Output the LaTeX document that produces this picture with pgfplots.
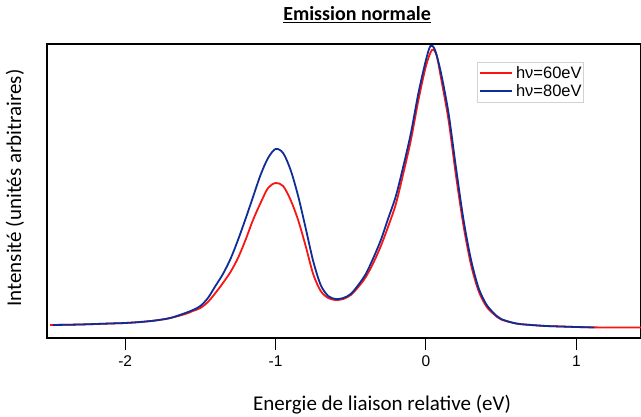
\documentclass[border=0pt]{standalone}
\usepackage{fontspec}
\setmainfont{Carlito}
\newfontfamily\arial{Liberation Sans}
\usepackage{pgfplots}
\pgfplotsset{compat=1.18}
\definecolor{cred}{RGB}{250,20,20}
\definecolor{cblue}{RGB}{15,45,150}
\begin{document}
\begin{tikzpicture}
\path[use as bounding box] (-47pt,-78pt) rectangle (594pt,338pt);
\begin{axis}[
  at={(0pt,0pt)}, anchor=south west,
  scale only axis, width=594pt, height=294pt,
  xmin=-2.52, xmax=1.43, ymin=0, ymax=294,
  axis line style={black, line width=1.2pt},
  xtick={-2,-1,0,1}, xticklabels={-2,-1,0,1},
  xtick pos=bottom, tick align=outside,
  major tick length=12pt,
  tick style={black, line width=1pt},
  ytick=\empty,
  xticklabel style={font=\arial\fontsize{15.5}{17}\selectfont, yshift=-2pt},
  xlabel={Energie de liaison relative (eV)},
  xlabel style={at={(axis description cs:0.564,-0.228)}, anchor=center, font=\fontsize{21}{24}\selectfont},
  ylabel={Intensité (unités arbitraires)},
  ylabel style={at={(axis description cs:-0.054,0.51)}, anchor=center, font=\fontsize{21}{24}\selectfont},
  title={\textbf{\underline{Emission normale}}},
  title style={at={(axis description cs:0.522,1.058)}, anchor=base, font=\fontsize{20}{24}\selectfont},
  legend style={at={(axis description cs:0.724,0.939)}, anchor=north west, draw=gray!35, font=\arial\fontsize{16.5}{19}\selectfont, inner xsep=2pt, inner ysep=2pt, row sep=1pt,
    nodes={inner xsep=3pt, text width=62pt}},
  legend cell align=left,
  legend image code/.code={\draw[#1] (0pt,0pt) -- (32pt,0pt);},
]
\addplot[cred, line width=1.8pt, smooth] coordinates {
(-2.50,13) (-2.30,13.5) (-2.10,14.5) (-2.00,15) (-1.90,16) (-1.80,17.5) (-1.70,20) (-1.60,24) (-1.55,27) (-1.50,30) (-1.45,36) (-1.40,45) (-1.35,55) (-1.30,66) (-1.25,80) (-1.20,98) (-1.15,118) (-1.10,135) (-1.05,150) (-1.00,155) (-0.95,152) (-0.90,138) (-0.85,118) (-0.80,92) (-0.75,64) (-0.70,47) (-0.65,40) (-0.60,38) (-0.55,39) (-0.50,43) (-0.45,51) (-0.40,61) (-0.35,75) (-0.30,92) (-0.25,112) (-0.20,134) (-0.15,165) (-0.10,198) (-0.05,238) (0.00,272) (0.04,288) (0.07,283) (0.10,260) (0.15,218) (0.20,162) (0.25,112) (0.30,73) (0.35,47) (0.40,32) (0.45,24) (0.50,18.5) (0.60,14.5) (0.70,13) (0.80,12) (0.90,11.5) (1.00,11) (1.20,10.5) (1.45,10.5)
};
\addlegendentry{hν=60eV}
\addplot[cblue, line width=1.8pt, smooth] coordinates {
(-2.48,13) (-2.30,13.5) (-2.10,14.5) (-2.00,15) (-1.90,16) (-1.80,17.5) (-1.70,20) (-1.60,25) (-1.55,28) (-1.50,32) (-1.45,40) (-1.40,52) (-1.35,64) (-1.30,79) (-1.25,98) (-1.20,119) (-1.15,141) (-1.10,163) (-1.05,180) (-1.00,189) (-0.95,185) (-0.90,168) (-0.85,142) (-0.80,110) (-0.75,77) (-0.70,53) (-0.65,42) (-0.60,39) (-0.55,40) (-0.50,44) (-0.45,53) (-0.40,64) (-0.35,80) (-0.30,98) (-0.25,120) (-0.20,142) (-0.15,172) (-0.10,205) (-0.05,245) (0.00,278) (0.03,292) (0.06,288) (0.10,265) (0.15,225) (0.20,170) (0.25,118) (0.30,78) (0.35,50) (0.40,34) (0.45,25) (0.50,19) (0.60,14.5) (0.70,13) (0.80,12) (0.90,11.5) (1.00,11) (1.12,10.5)
};
\addlegendentry{hν=80eV}
\end{axis}
\end{tikzpicture}
\end{document}
